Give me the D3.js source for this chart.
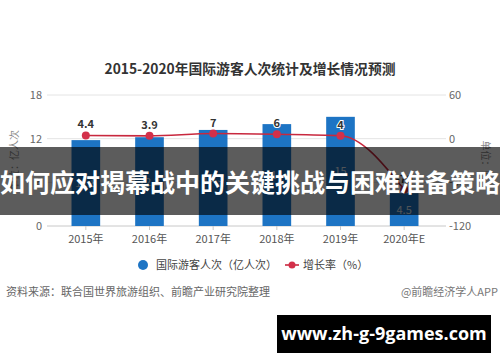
<!DOCTYPE html>
<html>
<head>
<meta charset="utf-8">
<script src="https://cdn.jsdelivr.net/npm/d3@7"></script>
<style>
  body { margin: 0; background: #fff; }
  svg { display: block; font-family: "Noto Sans CJK SC", "Noto Sans", sans-serif; }
</style>
</head>
<body>
<div id="chart"></div>
<script>
var years = ["2015年", "2016年", "2017年", "2018年", "2019年", "2020年E"];
var visitors = [11.8, 12.2, 13.2, 14, 15, 4.5];
var visitorLabels = ["11.8", "12.2", "13.3", "14", "15", "4.5"];
var growth = [4.4, 3.9, 7, 6, 4, -70];
var growthLabels = ["4.4", "3.9", "7", "6", "4", "-70"];
var leftTicks = [0, 6, 12, 18];
var rightTicks = [-120, -60, 0, 60];

var width = 500;
var height = 362;

var barColor = "#1d74c4";
var lineColor = "#c8283e";

var svg = d3.select("#chart").append("svg")
	.attr("width", width)
	.attr("height", height);

/* Scales */
var x = d3.scaleBand()
	.domain(years)
	.range([54, 436])
	.paddingInner(0.55)
	.paddingOuter(0.275);

var yLeft = d3.scaleLinear()
	.domain([0, 18])
	.range([226, 95]);

var yRight = d3.scaleLinear()
	.domain([-120, 60])
	.range([226, 95]);

/* Title */
svg.append("text")
	.attr("x", 250)
	.attr("y", 74)
	.attr("text-anchor", "middle")
	.style("font-size", "13.8px")
	.style("font-weight", "bold")
	.style("fill", "#333")
	.text("2015-2020年国际游客人次统计及增长情况预测");

/* Grid lines */
svg.append("g")
	.selectAll("line")
	.data(leftTicks).enter()
	.append("line")
	.attr("x1", 47)
	.attr("x2", 446)
	.attr("y1", d => yLeft(d))
	.attr("y2", d => yLeft(d))
	.style("stroke", d => d === 0 ? "#c8c8c8" : "#e4e4e4")
	.style("stroke-width", 1);

/* Left axis labels */
svg.append("g")
	.selectAll("text")
	.data(leftTicks).enter()
	.append("text")
	.attr("x", 42)
	.attr("y", d => yLeft(d) + 4)
	.attr("text-anchor", "end")
	.style("font-size", "11px")
	.style("fill", "#666")
	.text(d => d);

/* Right axis labels */
svg.append("g")
	.selectAll("text")
	.data(rightTicks).enter()
	.append("text")
	.attr("x", 449)
	.attr("y", d => yRight(d) + 4)
	.style("font-size", "11px")
	.style("fill", "#666")
	.text(d => d);

/* Axis titles */
svg.append("text")
	.attr("transform", "translate(18,160) rotate(-90)")
	.attr("text-anchor", "middle")
	.style("font-size", "10px")
	.style("fill", "#888")
	.text("单位：亿人次");

svg.append("text")
	.attr("transform", "translate(482,160) rotate(90)")
	.attr("text-anchor", "middle")
	.style("font-size", "10px")
	.style("fill", "#888")
	.text("单位：%");

/* X axis */
var xAxis = d3.axisBottom(x).tickSize(4).tickSizeOuter(0);
var gx = svg.append("g")
	.attr("transform", `translate(0, ${yLeft(0)})`)
	.call(xAxis);
gx.select(".domain").remove();
gx.selectAll(".tick line").style("stroke", "#c8c8c8");
gx.selectAll(".tick text")
	.attr("dy", "0.95em")
	.style("font-size", "11px")
	.style("font-family", "'Noto Sans CJK SC', sans-serif")
	.style("fill", "#555");

/* Bars */
svg.append("g")
	.selectAll("rect")
	.data(visitors).enter()
	.append("rect")
	.attr("x", (d, i) => x(years[i]))
	.attr("width", x.bandwidth())
	.attr("y", d => yLeft(d))
	.attr("height", d => yLeft(0) - yLeft(d))
	.style("fill", barColor);

/* Bar labels */
svg.append("g")
	.selectAll("text")
	.data(visitors).enter()
	.append("text")
	.attr("x", (d, i) => x(years[i]) + x.bandwidth() / 2)
	.attr("y", d => (yLeft(d) + yLeft(0)) / 2 + 4)
	.attr("text-anchor", "middle")
	.style("font-size", "11px")
	.style("fill", "#dfe8f2")
	.text((d, i) => visitorLabels[i]);

/* Growth line */
var line = d3.line()
	.x((d, i) => x(years[i]) + x.bandwidth() / 2)
	.y(d => yRight(d))
	.curve(d3.curveMonotoneX);

svg.append("path")
	.attr("d", line(growth))
	.style("fill", "none")
	.style("stroke", lineColor)
	.style("stroke-width", 1.6);

svg.append("g")
	.selectAll("circle")
	.data(growth).enter()
	.append("circle")
	.attr("cx", (d, i) => x(years[i]) + x.bandwidth() / 2)
	.attr("cy", d => yRight(d))
	.attr("r", 4)
	.style("fill", "#d3304a");

svg.append("g")
	.selectAll("text")
	.data(growth).enter()
	.append("text")
	.attr("x", (d, i) => x(years[i]) + x.bandwidth() / 2)
	.attr("y", d => yRight(d) - 7)
	.attr("text-anchor", "middle")
	.style("font-size", "11px")
	.style("font-weight", "bold")
	.style("fill", "#333")
	.style("stroke", "#fff")
	.style("stroke-width", 2)
	.style("paint-order", "stroke")
	.text((d, i) => growthLabels[i]);

/* Legend */
var legend = svg.append("g");
legend.append("circle")
	.attr("cx", 143)
	.attr("cy", 265)
	.attr("r", 5)
	.style("fill", barColor);
legend.append("text")
	.attr("x", 156)
	.attr("y", 269)
	.style("font-size", "11px")
	.style("fill", "#444")
	.text("国际游客人次（亿人次）");
legend.append("line")
	.attr("x1", 285)
	.attr("x2", 299)
	.attr("y1", 265)
	.attr("y2", 265)
	.style("stroke", lineColor)
	.style("stroke-width", 1.6);
legend.append("circle")
	.attr("cx", 292)
	.attr("cy", 265)
	.attr("r", 3.5)
	.style("fill", "#d3304a");
legend.append("text")
	.attr("x", 303)
	.attr("y", 269)
	.style("font-size", "11px")
	.style("fill", "#444")
	.text("增长率（%）");

/* Footer */
svg.append("text")
	.attr("x", 6)
	.attr("y", 296)
	.style("font-size", "11px")
	.style("fill", "#666")
	.text("资料来源：联合国世界旅游组织、前瞻产业研究院整理");

svg.append("text")
	.attr("x", 498)
	.attr("y", 296)
	.attr("text-anchor", "end")
	.style("font-size", "11px")
	.style("fill", "#777")
	.text("@前瞻经济学人APP");

/* Banner overlay */
svg.append("rect")
	.attr("x", 0)
	.attr("y", 147)
	.attr("width", width)
	.attr("height", 68)
	.style("fill", "rgba(0,0,0,0.64)");

svg.append("text")
	.attr("x", 250)
	.attr("y", 192)
	.attr("text-anchor", "middle")
	.style("font-size", "25px")
	.style("font-weight", "bold")
	.style("fill", "#fff")
	.text("如何应对揭幕战中的关键挑战与困难准备策略");

/* Site box */
svg.append("rect")
	.attr("x", 277)
	.attr("y", 315)
	.attr("width", 214)
	.attr("height", 38)
	.style("fill", "#000");

svg.append("text")
	.attr("x", 384)
	.attr("y", 340)
	.attr("text-anchor", "middle")
	.style("font-family", "'Open Sans', sans-serif")
	.style("font-size", "18px")
	.style("font-weight", "bold")
	.style("fill", "#fff")
	.text("www.zh-g-9games.com")
</script>
</body>
</html>
